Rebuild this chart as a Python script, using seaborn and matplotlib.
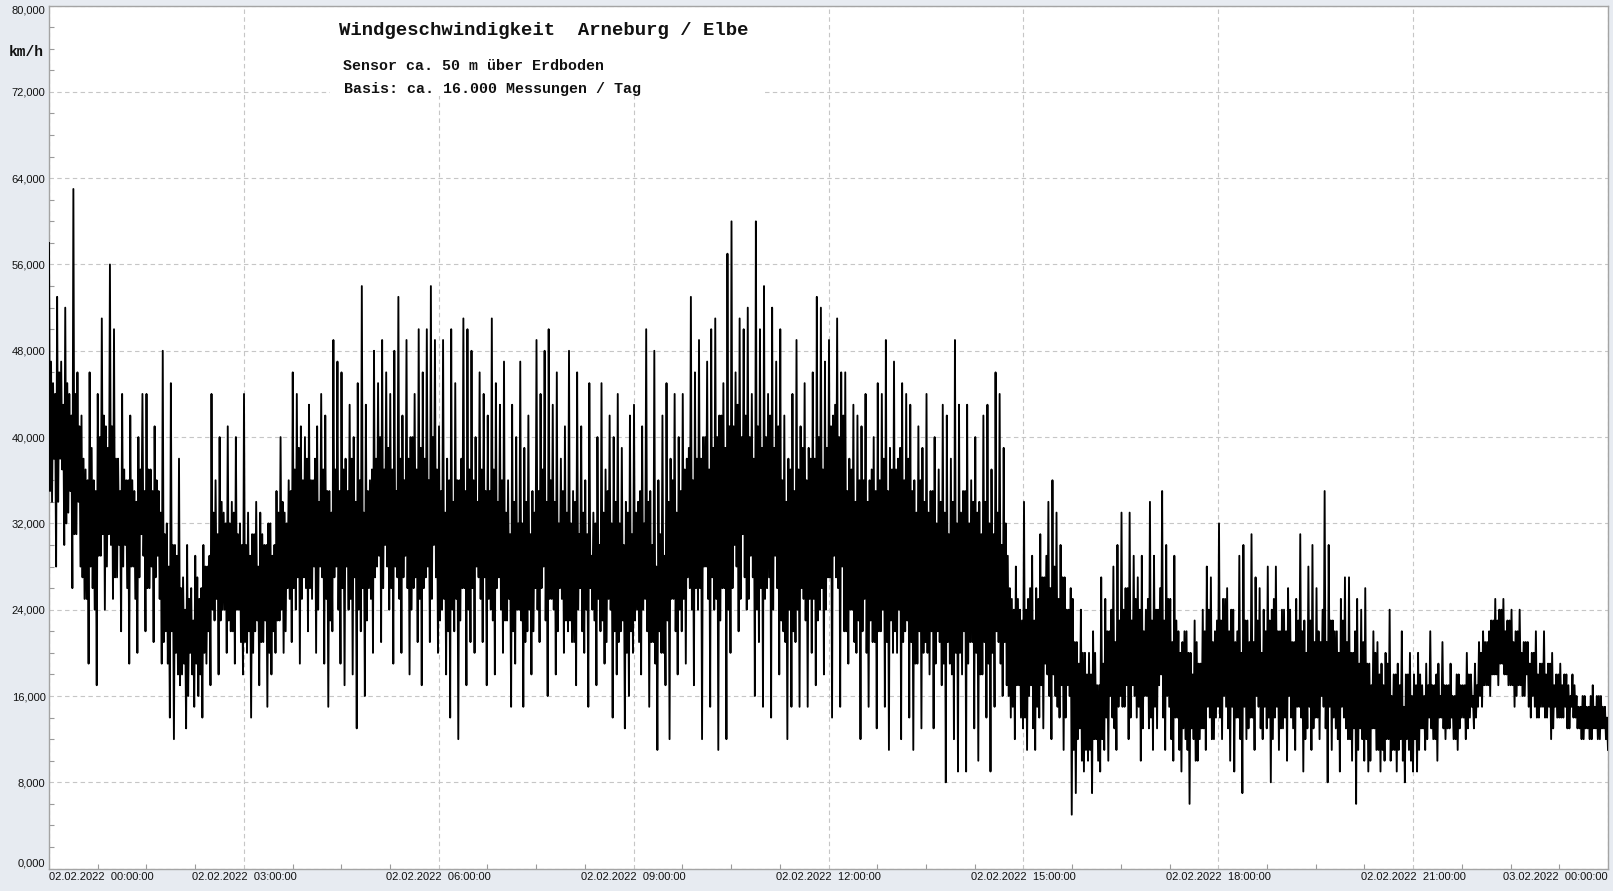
import numpy as np
import pandas as pd
import matplotlib
matplotlib.use("Agg")
import matplotlib.pyplot as plt
import seaborn as sns
from matplotlib.patches import Rectangle
from matplotlib.ticker import MultipleLocator

# ---- data (km/h): 16 slots per hour ----
# outer extremes of the trace (spikes up / dips down)
peaks = [
    58, 45, 53, 47, 52, 44, 63, 46, 42, 37, 46, 36, 44, 51, 41, 56,   # 00h
    50, 38, 44, 36, 42, 35, 40, 44, 44, 37, 41, 35, 48, 32, 45, 30,   # 01h
    38, 27, 30, 26, 29, 25, 30, 28, 44, 36, 40, 33, 41, 34, 40, 32,   # 02h
    44, 33, 31, 34, 33, 30, 32, 29, 35, 40, 33, 36, 46, 44, 41, 40,   # 03h
    43, 36, 41, 44, 42, 35, 49, 47, 46, 38, 43, 40, 45, 54, 43, 36,   # 04h
    48, 45, 49, 46, 44, 48, 53, 42, 49, 40, 44, 50, 46, 50, 54, 49,   # 05h
    41, 49, 38, 50, 45, 36, 51, 50, 48, 40, 46, 44, 42, 51, 45, 43,   # 06h
    47, 36, 43, 40, 47, 39, 42, 35, 49, 44, 48, 50, 43, 46, 38, 41,   # 07h
    48, 35, 46, 41, 36, 45, 33, 40, 45, 37, 42, 40, 44, 39, 34, 42,   # 08h
    43, 34, 41, 50, 35, 48, 36, 42, 45, 38, 44, 40, 44, 38, 53, 46,   # 09h
    49, 40, 47, 50, 51, 42, 45, 57, 60, 46, 51, 50, 52, 44, 60, 50,   # 10h
    54, 44, 52, 47, 50, 42, 38, 44, 49, 41, 45, 39, 46, 53, 52, 47,   # 11h
    49, 42, 51, 46, 46, 38, 43, 42, 41, 44, 36, 40, 45, 44, 49, 39,   # 12h
    47, 38, 45, 44, 43, 36, 41, 39, 44, 35, 40, 37, 43, 42, 38, 49,   # 13h
    43, 35, 43, 36, 40, 34, 42, 43, 37, 46, 44, 39, 29, 25, 28, 24,   # 14h
    34, 25, 29, 26, 31, 27, 34, 36, 33, 30, 27, 24, 25, 21, 24, 20,   # 15h
    20, 22, 17, 27, 25, 22, 28, 30, 33, 26, 33, 29, 27, 29, 24, 34,   # 16h
    29, 24, 35, 30, 25, 29, 22, 21, 22, 20, 23, 19, 24, 28, 27, 22,   # 17h
    32, 25, 26, 24, 21, 29, 30, 23, 31, 27, 26, 24, 28, 24, 28, 22,   # 18h
    24, 26, 21, 25, 31, 23, 28, 30, 26, 21, 35, 30, 23, 22, 25, 27,   # 19h
    27, 20, 25, 24, 26, 19, 22, 21, 19, 20, 24, 18, 19, 22, 18, 20,   # 20h
    18, 20, 17, 19, 22, 17, 19, 21, 17, 19, 16, 18, 17, 20, 18, 19,   # 21h
    21, 22, 21, 23, 25, 24, 25, 23, 24, 22, 24, 21, 21, 20, 22, 19,   # 22h
    22, 19, 20, 18, 19, 18, 17, 18, 16, 15, 16, 15, 17, 16, 16, 15,   # 23h
]
troughs = [
    34, 28, 38, 30, 33, 26, 31, 28, 25, 19, 26, 17, 29, 24, 31, 25,   # 00h
    27, 22, 30, 19, 28, 20, 31, 22, 26, 21, 29, 19, 22, 14, 12, 18,   # 01h
    18, 13, 20, 15, 16, 14, 19, 17, 23, 18, 24, 20, 22, 19, 24, 18,   # 02h
    20, 14, 22, 17, 21, 15, 18, 20, 23, 20, 26, 21, 24, 19, 27, 22,   # 03h
    25, 20, 28, 19, 15, 22, 28, 19, 17, 24, 18, 13, 22, 16, 26, 20,   # 04h
    28, 21, 30, 24, 19, 27, 20, 29, 18, 26, 21, 17, 27, 21, 30, 20,   # 05h
    24, 18, 14, 22, 12, 26, 17, 21, 20, 27, 21, 17, 24, 18, 27, 20,   # 06h
    23, 15, 19, 24, 15, 22, 18, 26, 21, 28, 16, 25, 18, 26, 20, 22,   # 07h
    21, 17, 26, 20, 15, 24, 17, 22, 19, 25, 14, 18, 22, 13, 16, 20,   # 08h
    24, 18, 25, 15, 21, 11, 20, 17, 12, 25, 18, 22, 19, 26, 17, 24,   # 09h
    12, 28, 15, 24, 11, 26, 12, 20, 30, 22, 31, 24, 29, 16, 21, 15,   # 10h
    26, 14, 29, 18, 22, 12, 15, 21, 15, 25, 15, 20, 17, 24, 18, 27,   # 11h
    14, 27, 15, 22, 19, 24, 20, 12, 25, 15, 21, 13, 22, 15, 11, 20,   # 12h
    20, 12, 22, 14, 11, 19, 13, 21, 18, 13, 22, 17, 8, 19, 12, 9,     # 13h
    18, 9, 21, 13, 10, 18, 14, 9, 15, 21, 16, 17, 14, 12, 17, 13,     # 14h
    11, 17, 11, 14, 13, 18, 12, 16, 14, 11, 17, 5, 7, 13, 9, 10,      # 15h
    7, 12, 9, 11, 10, 14, 11, 16, 15, 12, 17, 14, 10, 16, 13, 11,     # 16h
    13, 18, 11, 15, 10, 14, 9, 12, 6, 12, 10, 13, 11, 14, 12, 15,     # 17h
    12, 15, 10, 9, 14, 7, 12, 14, 11, 15, 12, 13, 8, 14, 11, 13,      # 18h
    10, 14, 11, 15, 9, 13, 11, 14, 12, 15, 8, 11, 13, 9, 14, 12,      # 19h
    10, 6, 13, 10, 9, 13, 11, 9, 10, 12, 11, 9, 12, 8, 11, 9,         # 20h
    9, 13, 11, 14, 12, 10, 14, 12, 13, 12, 11, 14, 12, 14, 13, 15,    # 21h
    15, 17, 16, 18, 17, 19, 18, 17, 15, 17, 16, 18, 14, 15, 14, 15,   # 22h
    14, 12, 15, 14, 14, 13, 15, 14, 13, 12, 13, 12, 13, 12, 13, 11,   # 23h
]
# inner oscillations forming the dense black core of the trace
inner_hi = [
    47, 44, 46, 43, 45, 42, 44, 41, 38, 36, 39, 35, 40, 42, 39, 41,   # 00h
    38, 35, 37, 36, 36, 34, 37, 35, 37, 35, 36, 33, 31, 28, 30, 29,   # 01h
    26, 24, 25, 23, 27, 26, 28, 29, 33, 31, 34, 32, 32, 33, 31, 30,   # 02h
    30, 29, 31, 28, 31, 30, 32, 30, 33, 34, 32, 35, 37, 39, 36, 38,   # 03h
    36, 38, 34, 37, 35, 33, 37, 35, 37, 35, 38, 34, 36, 33, 35, 37,   # 04h
    38, 40, 37, 39, 37, 35, 38, 36, 38, 40, 37, 39, 38, 36, 40, 37,   # 05h
    35, 33, 36, 34, 36, 38, 35, 37, 36, 34, 37, 35, 35, 37, 34, 36,   # 06h
    33, 31, 34, 32, 32, 34, 31, 33, 35, 37, 34, 36, 34, 32, 35, 33,   # 07h
    32, 34, 31, 33, 31, 29, 32, 30, 33, 35, 32, 34, 32, 30, 33, 31,   # 08h
    33, 35, 32, 34, 30, 28, 31, 29, 34, 36, 33, 35, 37, 39, 36, 38,   # 09h
    38, 40, 37, 39, 40, 42, 39, 41, 41, 43, 40, 42, 40, 38, 41, 39,   # 10h
    40, 42, 39, 41, 36, 34, 37, 35, 37, 39, 36, 38, 38, 40, 37, 39,   # 11h
    41, 43, 40, 42, 35, 37, 34, 36, 36, 34, 37, 35, 36, 38, 35, 37,   # 12h
    37, 39, 36, 38, 35, 33, 36, 34, 33, 35, 32, 34, 33, 31, 34, 32,   # 13h
    33, 35, 32, 34, 33, 31, 34, 32, 31, 33, 30, 32, 26, 24, 25, 23,   # 14h
    24, 26, 23, 25, 27, 29, 26, 28, 25, 27, 24, 26, 21, 19, 20, 18,   # 15h
    18, 20, 17, 19, 22, 24, 21, 23, 24, 26, 23, 25, 24, 22, 25, 23,   # 16h
    24, 26, 23, 25, 21, 23, 20, 22, 20, 18, 21, 19, 22, 24, 21, 23,   # 17h
    23, 25, 22, 24, 22, 20, 23, 21, 21, 23, 20, 22, 23, 25, 22, 24,   # 18h
    22, 24, 21, 23, 22, 20, 23, 21, 22, 24, 21, 23, 22, 20, 23, 21,   # 19h
    20, 22, 19, 21, 19, 17, 20, 18, 17, 19, 16, 18, 17, 15, 18, 16,   # 20h
    17, 18, 16, 17, 17, 18, 16, 17, 17, 16, 18, 17, 17, 18, 16, 17,   # 21h
    20, 21, 22, 23, 23, 24, 22, 23, 21, 22, 20, 21, 19, 20, 18, 19,   # 22h
    18, 19, 17, 18, 17, 18, 16, 17, 15, 16, 15, 16, 15, 16, 15, 14,   # 23h
]
inner_lo = [
    35, 38, 34, 37, 32, 35, 31, 34, 27, 25, 28, 24, 29, 31, 28, 30,   # 00h
    27, 30, 28, 26, 28, 25, 27, 29, 26, 28, 27, 25, 21, 19, 22, 20,   # 01h
    17, 19, 16, 18, 19, 18, 20, 22, 24, 25, 23, 24, 23, 22, 24, 21,   # 02h
    21, 22, 20, 23, 21, 23, 20, 22, 23, 24, 22, 25, 26, 27, 25, 26,   # 03h
    26, 28, 24, 27, 25, 23, 27, 24, 26, 28, 25, 27, 24, 26, 23, 25,   # 04h
    27, 29, 26, 28, 26, 28, 25, 27, 26, 24, 27, 25, 26, 28, 25, 27,   # 05h
    23, 25, 22, 24, 25, 23, 26, 24, 26, 28, 25, 27, 25, 23, 26, 24,   # 06h
    23, 25, 22, 24, 23, 21, 24, 22, 24, 26, 23, 25, 24, 22, 25, 23,   # 07h
    23, 21, 24, 22, 24, 26, 23, 25, 23, 21, 24, 22, 21, 23, 20, 22,   # 08h
    23, 21, 24, 22, 21, 19, 22, 20, 23, 25, 22, 24, 25, 27, 24, 26,   # 09h
    26, 28, 25, 27, 25, 23, 26, 24, 26, 28, 25, 27, 25, 27, 24, 26,   # 10h
    25, 27, 24, 26, 23, 21, 24, 22, 24, 26, 23, 25, 25, 23, 26, 24,   # 11h
    27, 29, 26, 28, 22, 24, 21, 23, 22, 20, 23, 21, 22, 24, 21, 23,   # 12h
    22, 24, 21, 23, 21, 19, 22, 20, 20, 22, 19, 21, 19, 21, 18, 20,   # 13h
    20, 22, 19, 21, 20, 18, 21, 19, 20, 22, 19, 21, 16, 15, 17, 14,   # 14h
    14, 16, 13, 15, 17, 19, 16, 18, 15, 17, 14, 16, 11, 12, 10, 11,   # 15h
    11, 12, 10, 12, 14, 16, 13, 15, 15, 17, 14, 16, 15, 13, 16, 14,   # 16h
    15, 17, 14, 16, 12, 14, 11, 13, 11, 13, 10, 12, 13, 15, 12, 14,   # 17h
    14, 16, 13, 15, 14, 12, 15, 13, 14, 16, 13, 15, 14, 12, 15, 13,   # 18h
    14, 16, 13, 15, 14, 12, 15, 13, 14, 16, 13, 15, 14, 12, 15, 13,   # 19h
    12, 13, 11, 12, 12, 10, 13, 11, 11, 12, 10, 11, 11, 10, 12, 10,   # 20h
    12, 11, 13, 12, 13, 12, 14, 13, 13, 14, 12, 13, 14, 13, 15, 14,   # 21h
    16, 17, 17, 18, 18, 19, 18, 17, 17, 16, 17, 16, 15, 16, 14, 15,   # 22h
    14, 15, 13, 14, 14, 15, 13, 14, 13, 12, 13, 12, 13, 12, 13, 12,   # 23h
]
hour_ticks = [0, 3, 6, 9, 12, 15, 18, 21, 24]
tick_labels = [
    "02.02.2022  00:00:00", "02.02.2022  03:00:00", "02.02.2022  06:00:00",
    "02.02.2022  09:00:00", "02.02.2022  12:00:00", "02.02.2022  15:00:00",
    "02.02.2022  18:00:00", "02.02.2022  21:00:00", "03.02.2022  00:00:00",
]
y_ticks = [0, 8, 16, 24, 32, 40, 48, 56, 64, 72, 80]
title = "Windgeschwindigkeit  Arneburg / Elbe"
sub1 = "Sensor ca. 50 m über Erdboden"
sub2 = "Basis: ca. 16.000 Messungen / Tag"
unit = "km/h"

# ---- figure ----
W, H = 1613, 891
BG = "#E7EBF1"
fig = plt.figure(figsize=(W / 100, H / 100), dpi=100, facecolor=BG)
ax = fig.add_axes([49 / W, 1 - 868.6 / H, (1608 - 49) / W, (868.6 - 5.6) / H])
ax.set_facecolor("white")

# series in time order: peak, inner low, inner high, trough for every slot
series = np.column_stack([peaks, inner_lo, inner_hi, troughs]).ravel()
t = np.linspace(0, 24, len(series))
df = pd.DataFrame({"t": t, "v": series})
sns.lineplot(data=df, x="t", y="v", ax=ax, color="black", linewidth=1.35,
             estimator=None, sort=False, zorder=3)

ax.set_xlim(0, 24)
ax.set_ylim(0, 80)
ax.set_xlabel("")
ax.set_ylabel("")

ax.set_xticks(hour_ticks)
ax.set_xticklabels(tick_labels, family="Liberation Sans", fontsize=8, color="#111111")
ax.xaxis.set_minor_locator(MultipleLocator(0.75))
ax.set_yticks(y_ticks)
ax.set_yticklabels([f"{v:.3f}".replace(".", ",") for v in y_ticks],
                   family="Liberation Sans", fontsize=8, color="#111111")
ax.yaxis.set_minor_locator(MultipleLocator(2))

ax.tick_params(which="both", direction="in", color="#9a9a9a", width=0.8, length=3.5)
ax.tick_params(axis="x", which="major", pad=2.5, length=0)
ax.tick_params(axis="y", which="major", pad=2.5, length=0)

xl = ax.get_xticklabels()
xl[0].set_horizontalalignment("left")
xl[-1].set_horizontalalignment("right")
yl = ax.get_yticklabels()
yl[0].set_verticalalignment("bottom")
yl[-1].set_verticalalignment("top")

ax.set_axisbelow(True)
ax.grid(True, which="major", linestyle=(0, (4, 3)), color="#C6C6C6", linewidth=0.8)
for s in ax.spines.values():
    s.set_color("#A4A4A4")
    s.set_linewidth(1.0)

# white box behind the title texts
ax.add_patch(Rectangle((330 / W, 1 - 96 / H), (762 - 330) / W, 88 / H,
                       transform=fig.transFigure, facecolor="white",
                       edgecolor="none", zorder=2))

fig.text(339 / W, 1 - 35 / H, title, family="Liberation Mono", weight="bold",
         fontsize=13.6, va="baseline", color="#111111")
fig.text(343 / W, 1 - 70.5 / H, sub1, family="Liberation Mono", weight="bold",
         fontsize=10.8, va="baseline", color="#111111")
fig.text(344 / W, 1 - 93 / H, sub2, family="Liberation Mono", weight="bold",
         fontsize=10.8, va="baseline", color="#111111")
fig.text(9 / W, 1 - 56 / H, unit, family="Liberation Mono", weight="bold",
         fontsize=10.5, va="baseline", color="#111111")

fig.savefig("out.png", dpi=100, facecolor=BG)
